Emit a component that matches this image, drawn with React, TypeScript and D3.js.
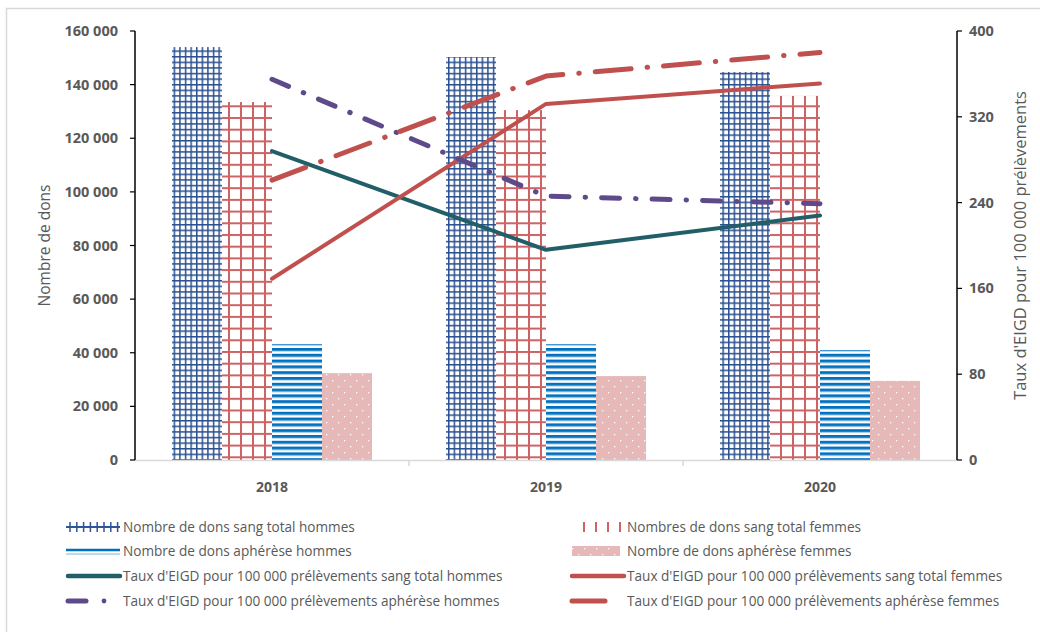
import React from "react";
import * as d3 from "d3";

const years = ["2018", "2019", "2020"];
const sangTotalHommes = [154000, 150300, 144700];
const sangTotalFemmes = [133500, 130500, 135800];
const apherHommes = [43200, 43200, 41000];
const apherFemmes = [32400, 31300, 29500];

const tauxSangHommes = [288, 196, 228];
const tauxSangFemmes = [169, 332, 351];
const tauxApherHommes = [355, 246, 239];
const tauxApherFemmes = [261, 358, 380];

const leftTicks = [0, 20000, 40000, 60000, 80000, 100000, 120000, 140000, 160000];
const rightTicks = [0, 80, 160, 240, 320, 400];

const barSeries = [
  { key: "sth", values: sangTotalHommes, fill: "url(#pBlueGrid)" },
  { key: "stf", values: sangTotalFemmes, fill: "url(#pRedGrid)" },
  { key: "ah", values: apherHommes, fill: "url(#pBlueStripes)" },
  { key: "af", values: apherFemmes, fill: "url(#pPinkDots)" },
];

const lineSeries = [
  { key: "lsh", values: tauxSangHommes, color: "#215E68", dash: "none", width: 4 },
  { key: "lsf", values: tauxSangFemmes, color: "#C0504D", dash: "none", width: 4 },
  { key: "lah", values: tauxApherHommes, color: "#5E4A8A", dash: "18 16 0.5 16", width: 5 },
  { key: "laf", values: tauxApherFemmes, color: "#C0504D", dash: "36 16 0.5 16", width: 5 },
];

const W = 1040;
const H = 632;
const left = 135;
const right = 957;
const top = 31;
const bottom = 460;

const FONT = "'Open Sans', 'Noto Sans', sans-serif";
const TXT = "#595959";

export default function App() {
  const x0 = d3.scaleBand<string>().domain(years).range([left, right]).paddingInner(0).paddingOuter(0);
  const barGroupW = 200;
  const off = (x0.bandwidth() - barGroupW) / 2;
  const inner = d3
    .scaleBand<string>()
    .domain(barSeries.map((s) => s.key))
    .range([off, off + barGroupW])
    .padding(0);
  const yL = d3.scaleLinear().domain([0, 160000]).range([bottom, top]);
  const yR = d3.scaleLinear().domain([0, 400]).range([bottom, top]);
  const fmt = (v: number) => d3.format(",")(v).replace(/,/g, " ");
  const cx = (y: string) => (x0(y) as number) + x0.bandwidth() / 2;
  const line = d3
    .line<number>()
    .x((_, i) => cx(years[i]))
    .y((v) => yR(v));

  const legendItems = [
    { col: 0, row: 0, label: "Nombre de dons sang total hommes", type: "sth" },
    { col: 1, row: 0, label: "Nombres de dons sang total femmes", type: "stf" },
    { col: 0, row: 1, label: "Nombre de dons aphérèse hommes", type: "ah" },
    { col: 1, row: 1, label: "Nombre de dons aphérèse femmes", type: "af" },
    { col: 0, row: 2, label: "Taux d'EIGD pour 100 000 prélèvements sang total hommes", type: "lsh" },
    { col: 1, row: 2, label: "Taux d'EIGD pour 100 000 prélèvements sang total femmes", type: "lsf" },
    { col: 0, row: 3, label: "Taux d'EIGD pour 100 000 prélèvements aphérèse hommes", type: "lah" },
    { col: 1, row: 3, label: "Taux d'EIGD pour 100 000 prélèvements aphérèse femmes", type: "laf" },
  ];
  const rowY = [527, 551, 576, 601];

  const marker = (type: string, y: number, col: number) => {
    const mx = col === 0 ? 68 : 572;
    if (type === "sth") {
      const ticks = d3.range(0, 8).map((i) => 70 + i * 6.8);
      return (
        <g>
          <line x1={66} x2={120} y1={y} y2={y} stroke="#2F5597" strokeWidth={2} />
          {ticks.map((t, i) => (
            <line key={i} x1={t} x2={t} y1={y - 5} y2={y + 5} stroke="#2F5597" strokeWidth={1.5} />
          ))}
        </g>
      );
    }
    if (type === "stf") {
      return (
        <g>
          {[584, 596, 608, 620].map((t, i) => (
            <line key={i} x1={t} x2={t} y1={y - 5} y2={y + 5} stroke="#CD6365" strokeWidth={2} />
          ))}
        </g>
      );
    }
    if (type === "ah") {
      return (
        <g>
          <line x1={66} x2={120} y1={y - 1} y2={y - 1} stroke="#0070C0" strokeWidth={2.5} />
          <line x1={66} x2={120} y1={y + 3} y2={y + 3} stroke="#7FB6E0" strokeWidth={1.2} />
        </g>
      );
    }
    if (type === "af") {
      return <rect x={572} y={y - 5} width={48} height={10} fill="url(#pPinkDots)" />;
    }
    const s = lineSeries.find((l) => l.key === type)!;
    if (type === "lah") {
      return (
        <g>
          <line x1={68} x2={86} y1={y} y2={y} stroke={s.color} strokeWidth={5} strokeLinecap="round" />
          <circle cx={104} cy={y} r={2.4} fill={s.color} />
        </g>
      );
    }
    if (type === "laf") {
      return <line x1={572} x2={605} y1={y} y2={y} stroke={s.color} strokeWidth={5} strokeLinecap="round" />;
    }
    return <line x1={mx} x2={mx + 52} y1={y} y2={y} stroke={s.color} strokeWidth={4.5} strokeLinecap="round" />;
  };

  return (
    <svg
      width={W}
      height={H}
      style={{ position: "absolute", left: 0, top: 0, background: "#fff" }}
      fontFamily={FONT}
    >
      <defs>
        <pattern id="pBlueGrid" patternUnits="userSpaceOnUse" width={5.6} height={5.6} x={0} y={0}>
          <rect width={5.6} height={5.6} fill="#fff" />
          <rect x={0} y={0} width={1.5} height={5.6} fill="#2A5090" />
          <rect x={0} y={0} width={5.6} height={1.5} fill="#2A5090" />
        </pattern>
        <pattern id="pRedGrid" patternUnits="userSpaceOnUse" width={12} height={11.7} x={0} y={0}>
          <rect width={12} height={11.7} fill="#fff" />
          <rect x={0} y={0} width={2} height={11.7} fill="#CD6365" />
          <rect x={0} y={0} width={12} height={2} fill="#CD6365" />
        </pattern>
        <pattern id="pBlueStripes" patternUnits="userSpaceOnUse" width={10} height={5.8}>
          <rect width={10} height={5.8} fill="#fff" />
          <rect x={0} y={0} width={10} height={2.8} fill="#0070C0" />
          <rect x={0} y={2.8} width={10} height={0.8} fill="#9CC6E6" />
        </pattern>
        <pattern id="pPinkDots" patternUnits="userSpaceOnUse" width={12} height={12}>
          <rect width={12} height={12} fill="#E6B9B8" />
          <rect x={2} y={2} width={1.3} height={1.3} fill="#fff" />
          <rect x={8} y={8} width={1.3} height={1.3} fill="#fff" />
        </pattern>
      </defs>

      <rect x={6.5} y={8.5} width={W + 20} height={H + 20} fill="#fff" stroke="#D9D9D9" strokeWidth={1.5} />

      {/* bars */}
      {barSeries.map((s) => (
        <g key={s.key}>
          {s.values.map((v, i) => {
            const x = (x0(years[i]) as number) + (inner(s.key) as number);
            return (
              <rect
                key={i}
                x={x}
                y={yL(v)}
                width={inner.bandwidth()}
                height={bottom - yL(v)}
                fill={s.fill}
              />
            );
          })}
        </g>
      ))}

      {/* x axis */}
      <line x1={left} x2={right} y1={bottom + 0.5} y2={bottom + 0.5} stroke="#D9D9D9" strokeWidth={1.5} />
      {years.slice(1).map((y) => (
        <line key={y} x1={x0(y) as number} x2={x0(y) as number} y1={bottom} y2={bottom + 6} stroke="#D9D9D9" strokeWidth={1.5} />
      ))}
      {years.map((y) => (
        <text key={y} x={cx(y)} y={492} textAnchor="middle" fontSize={14} fontWeight="bold" fill={TXT}>
          {y}
        </text>
      ))}

      {/* left axis */}
      <line x1={left} x2={left} y1={top} y2={bottom} stroke="#000" strokeWidth={1.5} />
      {leftTicks.map((t) => (
        <g key={t}>
          <line x1={left - 5} x2={left} y1={yL(t)} y2={yL(t)} stroke="#000" strokeWidth={1.2} />
          <text x={118} y={yL(t) + 5} textAnchor="end" fontSize={14.5} fontWeight="bold" fill={TXT}>
            {fmt(t)}
          </text>
        </g>
      ))}
      <text
        transform={`translate(50,${(top + bottom) / 2}) rotate(-90)`}
        textAnchor="middle"
        fontSize={15.5}
        fill={TXT}
      >
        Nombre de dons
      </text>

      {/* right axis */}
      <line x1={right} x2={right} y1={top} y2={bottom} stroke="#000" strokeWidth={1.5} />
      {rightTicks.map((t) => (
        <g key={t}>
          <line x1={right} x2={right + 5} y1={yR(t)} y2={yR(t)} stroke="#000" strokeWidth={1.2} />
          <text x={969} y={yR(t) + 5} textAnchor="start" fontSize={14.5} fontWeight="bold" fill={TXT}>
            {t}
          </text>
        </g>
      ))}
      <text
        transform={`translate(1026,${(top + bottom) / 2}) rotate(-90)`}
        textAnchor="middle"
        fontSize={16.5}
        fill={TXT}
      >
        Taux d'EIGD pour 100 000 prélèvements
      </text>

      {/* lines */}
      {lineSeries.map((s) => (
        <path
          key={s.key}
          d={line(s.values) as string}
          fill="none"
          stroke={s.color}
          strokeWidth={s.width}
          strokeDasharray={s.dash}
          strokeLinecap="round"
          strokeLinejoin="round"
        />
      ))}

      {/* legend */}
      {legendItems.map((it) => (
        <g key={it.type}>
          {marker(it.type, rowY[it.row], it.col)}
          <text
            x={it.col === 0 ? 123 : 627}
            y={rowY[it.row] + 5}
            fontSize={13.6}
            fill={TXT}
          >
            {it.label}
          </text>
        </g>
      ))}
    </svg>
  );
}
